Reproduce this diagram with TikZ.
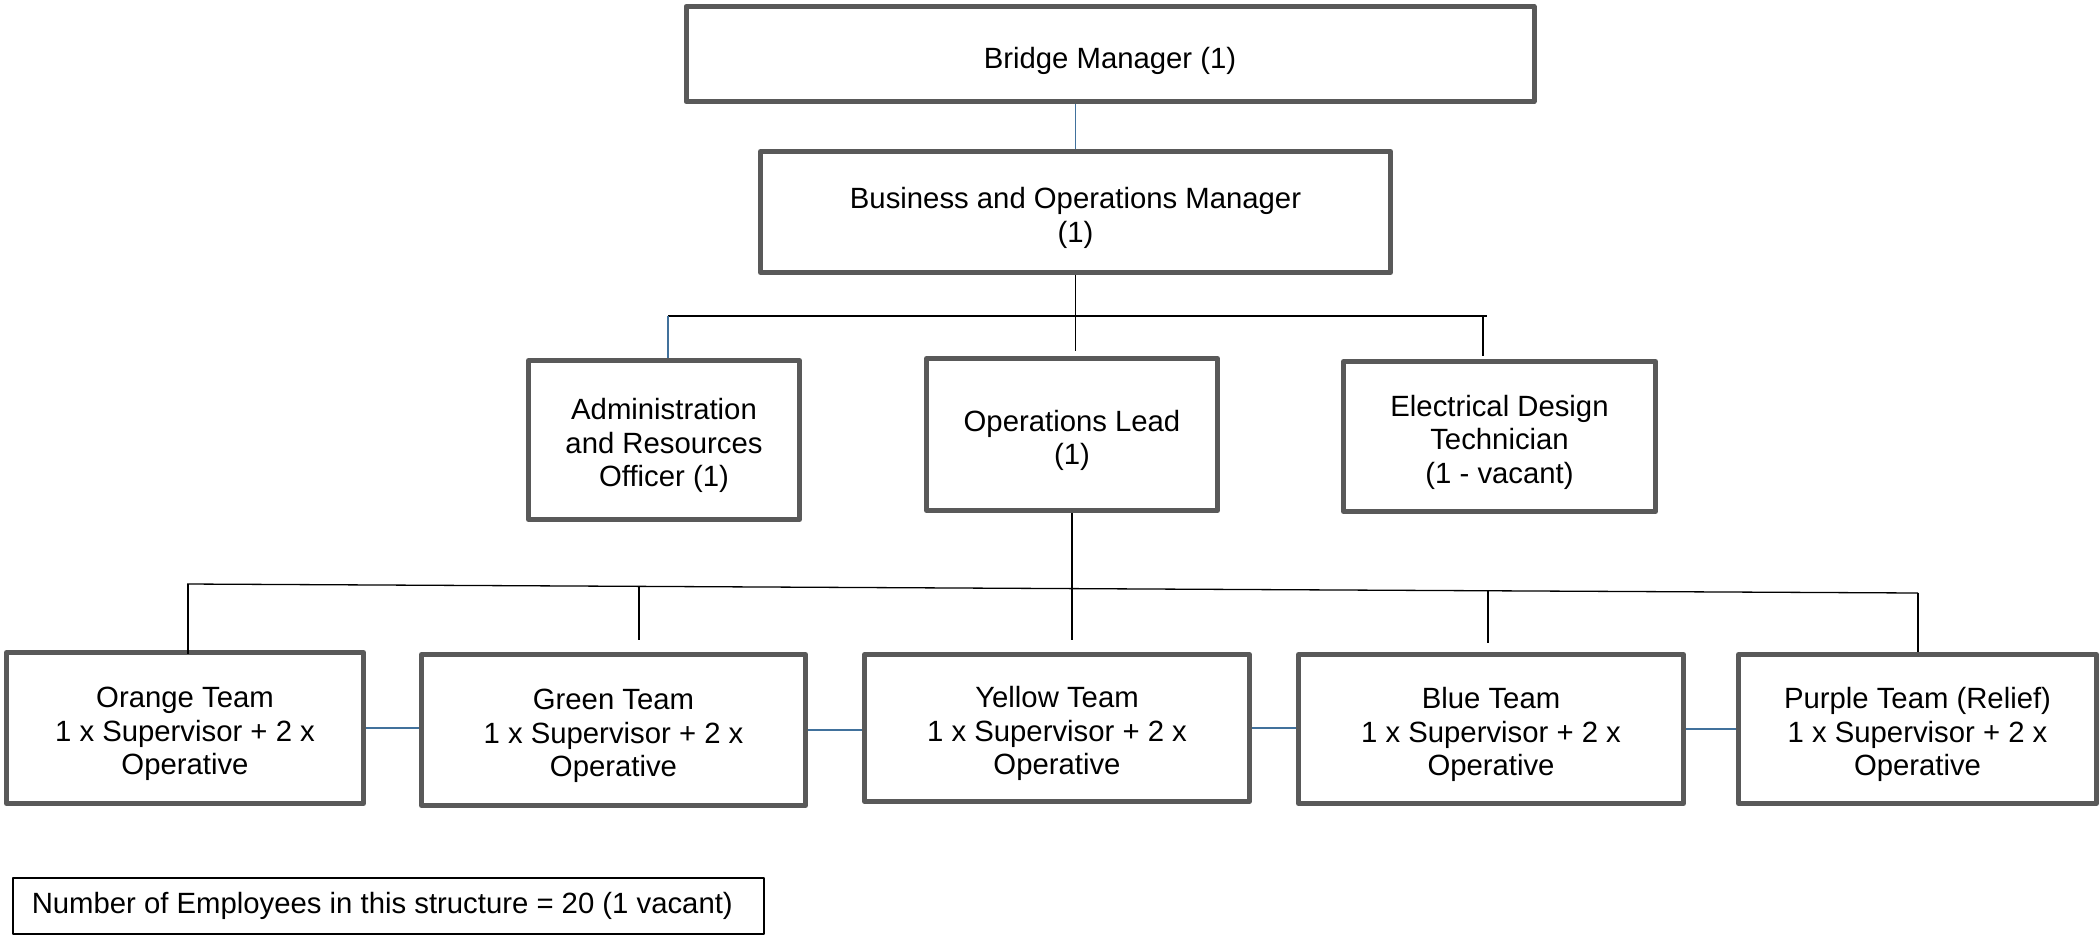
\documentclass[tikz,border=0pt]{standalone}
\usepackage{fontspec}
\setmainfont{Liberation Sans}
\definecolor{boxgray}{RGB}{89,89,89}
\definecolor{linkblue}{RGB}{65,113,156}
\newcommand\topstrut{\rule{0pt}{33pt}}
\newcommand\botstrut{\rule[-5pt]{0pt}{5pt}}
\begin{document}
\begin{tikzpicture}[x=1pt,y=-1pt,line join=round,font=\fontsize{29.3}{33.5}\selectfont,
  orgbox/.style={draw=boxgray,line width=5pt,align=center,inner sep=0pt},
  wire/.style={black,line width=1.3pt},
  bluewire/.style={linkblue,line width=1.6pt}]
\useasboundingbox (0,0) rectangle (2100,938);
% management
\node[orgbox,minimum width=848pt,minimum height=95pt] (bm) at (1110,54) {\rule{0pt}{36pt}Bridge Manager (1)\botstrut};
\node[orgbox,minimum width=630pt,minimum height=121pt] (bom) at (1075.5,212) {\topstrut Business and Operations Manager\\(1)\botstrut};
\node[orgbox,minimum width=271pt,minimum height=159pt] (adm) at (664,440) {\topstrut Administration\\and Resources\\Officer (1)\botstrut};
\node[orgbox,minimum width=291pt,minimum height=152pt] (ops) at (1072,434.5) {\topstrut Operations Lead\\(1)\botstrut};
\node[orgbox,minimum width=312pt,minimum height=150pt] (et) at (1499.5,436.5) {\topstrut Electrical Design\\Technician\\(1 - vacant)\botstrut};
% teams
\foreach \n/\t/\x/\y/\w/\h in {orange/Orange Team/185/728/357/151,green/Green Team/613.5/730/384/151,yellow/Yellow Team/1057/728/385/146.5,blue/Blue Team/1491/729/385/149,purple/Purple Team (Relief)/1917.5/729/358/149}
  \node[orgbox,minimum width=\w pt,minimum height=\h pt] (\n) at (\x,\y) {\topstrut\t\\1 x Supervisor + 2 x\\Operative\botstrut};
\node[draw,line width=1.5pt,anchor=west,minimum height=56pt,inner xsep=19pt] (total) at (12,906) {Number of Employees in this structure = 20 (1 vacant)\hspace*{12pt}};
% connectors
\draw[bluewire] (bom.north) -- (bom.north |- bm.south);
\draw[wire,shorten >=5pt] (bom.south) -- (bom.south |- ops.north);
\coordinate (barL) at (668,316);
\coordinate (barR) at (1487,316);
\draw[wire] (barL) -- (barR);
\draw[bluewire] (barL) -- (barL |- adm.north);
\draw[wire,shorten >=3pt] (1483,316) -- (1483,316 |- et.north);
\coordinate (busL) at (187,584);
\coordinate (busR) at (1918,593);
\draw[wire] (busL) -- (busR);
\draw[wire,shorten >=12pt] (ops.south) -- (ops.south |- yellow.north);
\foreach \n/\x/\y/\g in {orange/188/584/-4,green/639/586.3/12,blue/1488/590.8/9,purple/1918/593/0}
  \draw[wire,shorten >=\g pt] (\x,\y) -- (\x,\y |- \n.north);
\foreach \a/\b in {orange/green,green/yellow,yellow/blue,blue/purple}
  \draw[bluewire] (\a.east) -- (\a.east -| \b.west);
\end{tikzpicture}
\end{document}
